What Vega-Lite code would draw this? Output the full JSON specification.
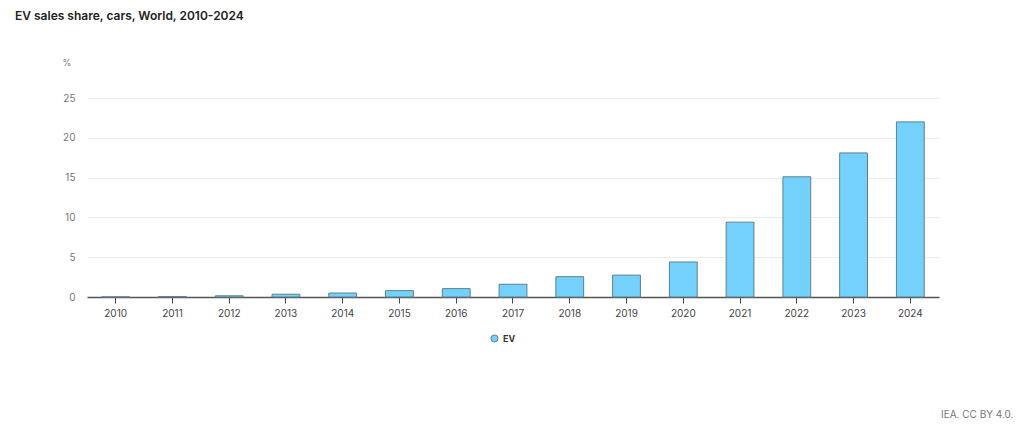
{
  "$schema": "https://vega.github.io/schema/vega-lite/v6.json",
  "autosize": "none",
  "width": 852,
  "height": 199,
  "padding": {"left": 87, "top": 98, "right": 85, "bottom": 143},
  "background": "white",
  "config": {
    "font": "Inter",
    "view": {"stroke": null}
  },
  "title": {
    "text": "EV sales share, cars, World, 2010-2024",
    "anchor": "start",
    "frame": "group",
    "dx": -72,
    "offset": 35,
    "fontSize": 12,
    "fontWeight": 600,
    "color": "#222222",
    "font": "Inter"
  },
  "data": {
    "values": [
      {"year": "2010", "series": "EV", "share": 0.01},
      {"year": "2011", "series": "EV", "share": 0.05},
      {"year": "2012", "series": "EV", "share": 0.15},
      {"year": "2013", "series": "EV", "share": 0.35},
      {"year": "2014", "series": "EV", "share": 0.5},
      {"year": "2015", "series": "EV", "share": 0.8},
      {"year": "2016", "series": "EV", "share": 1.05},
      {"year": "2017", "series": "EV", "share": 1.6},
      {"year": "2018", "series": "EV", "share": 2.55},
      {"year": "2019", "series": "EV", "share": 2.75},
      {"year": "2020", "series": "EV", "share": 4.4},
      {"year": "2021", "series": "EV", "share": 9.4},
      {"year": "2022", "series": "EV", "share": 15.1},
      {"year": "2023", "series": "EV", "share": 18.1},
      {"year": "2024", "series": "EV", "share": 22.0}
    ]
  },
  "mark": {"type": "bar", "stroke": "#5f7f8f", "strokeWidth": 1},
  "encoding": {
    "x": {
      "field": "year",
      "type": "ordinal",
      "scale": {"paddingInner": 0.51, "paddingOuter": 0.26},
      "axis": {
        "title": "IEA. CC BY 4.0.",
        "titleAnchor": "end",
        "titleX": 926,
        "titleY": 112,
        "titleFontSize": 10,
        "titleFontWeight": "normal",
        "titleColor": "#777777",
        "labelAngle": 0,
        "labelFontSize": 10,
        "labelColor": "#444444",
        "labelPadding": 5,
        "domainColor": "#555555",
        "domainWidth": 1.5,
        "tickColor": "#444444",
        "tickSize": 6,
        "grid": false
      }
    },
    "y": {
      "field": "share",
      "type": "quantitative",
      "scale": {"domain": [0, 25]},
      "axis": {
        "title": "%",
        "titleAngle": 0,
        "titleX": -25,
        "titleY": -31,
        "titleFontSize": 9,
        "titleFontWeight": "normal",
        "titleColor": "#777777",
        "titleAlign": "left",
        "values": [0, 5, 10, 15, 20, 25],
        "domain": false,
        "ticks": false,
        "labelPadding": 12,
        "labelFontSize": 10,
        "labelColor": "#777777",
        "gridColor": "#ececec",
        "gridWidth": 1
      }
    },
    "fill": {
      "field": "series",
      "type": "nominal",
      "scale": {"range": ["#73d1fb"]},
      "legend": {
        "title": null,
        "orient": "none",
        "legendX": 403,
        "legendY": 236,
        "symbolType": "circle",
        "symbolSize": 50,
        "symbolStrokeColor": "#5f7f8f",
        "symbolStrokeWidth": 1,
        "labelFontSize": 9,
        "labelFontWeight": "bold",
        "labelColor": "#333333"
      }
    }
  }
}
